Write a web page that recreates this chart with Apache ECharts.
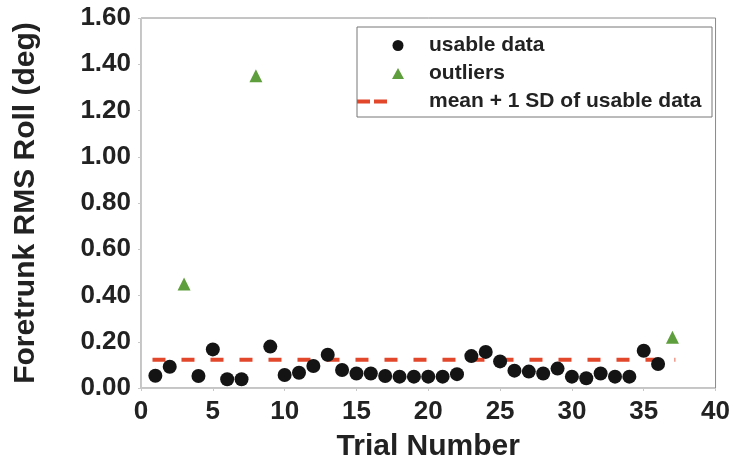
<!DOCTYPE html>
<html>
<head>
<meta charset="utf-8">
<script src="https://cdn.jsdelivr.net/npm/echarts@6/dist/echarts.min.js"></script>
<style>
  html, body { margin: 0; padding: 0; background: #fff; }
  #chart { width: 733px; height: 469px; }
</style>
</head>
<body>
<div id="chart"></div>
<script>
// trial numbers and RMS roll values
const usableTrials = [1, 2, 4, 5, 6, 7, 9, 10, 11, 12, 13, 14, 15, 16, 17, 18, 19, 20, 21, 22,
  23, 24, 25, 26, 27, 28, 29, 30, 31, 32, 33, 34, 35, 36]
const usableRoll = [0.053, 0.092, 0.052, 0.167, 0.038, 0.038, 0.179, 0.056, 0.066, 0.095, 0.144, 0.078,
  0.063, 0.063, 0.052, 0.049, 0.049, 0.049, 0.049, 0.06, 0.138, 0.156, 0.115, 0.075, 0.071, 0.063,
  0.084, 0.049, 0.042, 0.063, 0.049, 0.049, 0.161, 0.104]
const outlierTrials = [3, 8, 37]
const outlierRoll = [0.45, 1.35, 0.22]
const meanPlusSD = 0.122
const meanLineFrom = 0.8
const meanLineTo = 37.2

const FONT = 'Liberation Sans'
const legendText = { fontFamily: FONT, fontSize: 21, fontWeight: 'bold', color: '#222', lineHeight: 21 }

const chart = echarts.init(document.getElementById('chart'))

chart.setOption({
  animation: false,
  grid: {
    left: 141,
    right: 17,
    top: 18,
    bottom: 81,
    show: true,
    borderColor: '#8a8a8a',
    borderWidth: 1
  },
  graphic: [{
    type: 'rect',
    shape: { x: 357, y: 27, width: 355, height: 90 },
    style: { fill: '#fff', stroke: '#777', lineWidth: 1 },
    z: 3
  }],
  legend: [
    {
      data: [
        { name: 'usable data', icon: 'circle', itemStyle: { opacity: 1 } },
        { name: 'outliers', icon: 'triangle' }
      ],
      orient: 'vertical',
      left: 392,
      top: 35,
      padding: 0,
      itemWidth: 12,
      itemHeight: 11,
      itemGap: 7,
      z: 5,
      textStyle: Object.assign({}, legendText, { padding: [0, 0, 0, 20] })
    },
    {
      data: [{ name: 'mean + 1 SD of usable data', icon: 'path://M0,0H13V4H0Z M17,0H30V4H17Z' }],
      left: 357,
      top: 91,
      padding: 0,
      itemWidth: 30,
      itemHeight: 4,
      z: 5,
      textStyle: Object.assign({}, legendText, { padding: [0, 0, 0, 37] })
    }
  ],
  xAxis: {
    type: 'value',
    min: 0,
    max: 40,
    interval: 5,
    name: 'Trial Number',
    nameLocation: 'middle',
    nameGap: 44,
    nameTextStyle: { fontFamily: FONT, fontSize: 30, fontWeight: 'bold', color: '#222' },
    axisLine: { show: true, lineStyle: { color: '#c8c8c8' } },
    axisTick: { show: true, length: 3, lineStyle: { color: '#c8c8c8' } },
    axisLabel: { margin: 11, fontFamily: FONT, fontSize: 26, fontWeight: 'bold', color: '#222' },
    splitLine: { show: false }
  },
  yAxis: {
    type: 'value',
    min: 0,
    max: 1.6,
    interval: 0.2,
    name: 'Foretrunk RMS Roll (deg)',
    nameLocation: 'middle',
    nameGap: 100,
    nameTextStyle: { fontFamily: FONT, fontSize: 30, fontWeight: 'bold', color: '#222' },
    axisLine: { show: true, lineStyle: { color: '#c8c8c8' } },
    axisTick: { show: true, length: 3, lineStyle: { color: '#c8c8c8' } },
    axisLabel: {
      margin: 10,
      fontFamily: FONT, fontSize: 26, fontWeight: 'bold', color: '#222',
      formatter: v => v.toFixed(2)
    },
    splitLine: { show: false }
  },
  series: [
    {
      name: 'usable data',
      type: 'scatter',
      symbol: 'circle',
      symbolSize: 14,
      itemStyle: { color: '#141414', opacity: 1 },
      data: usableTrials.map((t, i) => [t, usableRoll[i]]),
      z: 4
    },
    {
      name: 'outliers',
      type: 'scatter',
      symbol: 'triangle',
      symbolSize: 13,
      itemStyle: { color: '#5f9e3c', opacity: 1 },
      data: outlierTrials.map((t, i) => [t, outlierRoll[i]]),
      z: 4
    },
    {
      name: 'mean + 1 SD of usable data',
      type: 'line',
      symbol: 'none',
      lineStyle: { color: '#e2472c', width: 4, type: [13, 16] },
      itemStyle: { color: '#e2472c' },
      data: [[meanLineFrom, meanPlusSD], [meanLineTo, meanPlusSD]],
      z: 3
    }
  ]
})
</script>
</body>
</html>
